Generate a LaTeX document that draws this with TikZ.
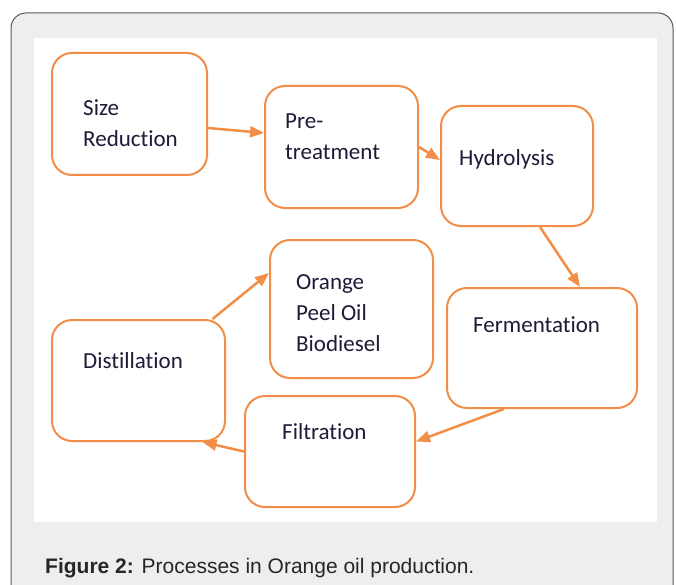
\documentclass[tikz,border=0pt]{standalone}
\usepackage{xcolor}
\usepackage{fontspec}
\setmainfont{Carlito}[Ligatures=NoCommon]
\newfontfamily\capfont{Liberation Sans}
\usepackage{tikz}
\usetikzlibrary{arrows.meta}
\definecolor{boxorange}{HTML}{F28E47}
\definecolor{boxtext}{HTML}{1C1C38}
\definecolor{panelgrey}{HTML}{EEEEEE}

\begin{document}
\begin{tikzpicture}[x=1pt, y=-1pt,
  stage/.style={draw=boxorange, line width=2pt, rounded corners=20pt, fill=white, inner sep=0pt},
  word/.style={anchor=base west, inner sep=0pt, text=boxtext, align=left, font=\fontsize{23}{31}\selectfont},
  flow/.style={draw=boxorange, line width=2.5pt, -{Triangle[length=14pt,width=11pt]}}]
  \useasboundingbox (0,0) rectangle (676,585);
  \begin{scope}
    \clip (0,0) rectangle (676,585);
    \draw[fill=panelgrey, draw=black!65, line width=1pt, rounded corners=15pt] (11,13) rectangle (673,600);
  \end{scope}
  \fill[white] (34,38) rectangle (657,522);

  \node[stage, minimum width=155pt, minimum height=122pt] (size) at (129.5,114) {};
  \node[stage, minimum width=153pt, minimum height=122pt] (pre) at (341.5,147) {};
  \node[stage, minimum width=152pt, minimum height=120pt] (hydro) at (517,166) {};
  \node[stage, minimum width=190pt, minimum height=120pt] (ferm) at (542,348) {};
  \node[stage, minimum width=170pt, minimum height=111pt] (filt) at (330,451.5) {};
  \node[stage, minimum width=173pt, minimum height=121pt] (dist) at (138.5,380.5) {};
  \node[stage, minimum width=163pt, minimum height=138pt] (oil) at (351.5,309) {};

  % base of a multi-line node sits on its last line
  \node[word] (sizetxt) at (83,147) {Size\\Reduction};
  \node[word] (pretxt) at (285,160) {Pre-\\treatment};
  \node[word] (hydrotxt) at (459,166) {Hydrolysis};
  \node[word] (fermtxt) at (473,332) {Fermentation};
  \node[word] (filttxt) at (282,439) {Filtration};
  \node[word] (disttxt) at (83,368) {Distillation};
  \node[word] (oiltxt) at (296,351) {Orange\\Peel Oil\\Biodiesel};

  \draw[flow] ([yshift=-14pt]size.east) -- ([yshift=14pt]pre.west);
  \draw[flow] (pre.east) -- ([yshift=6pt]hydro.west);
  \draw[flow] ([xshift=23pt]hydro.south) -- ([xshift=38pt]ferm.north);
  \draw[flow] ([xshift=-38pt]ferm.south) -- ([yshift=10pt]filt.east);
  \draw[flow] (filt.west) -- ([xshift=64pt]dist.south);
  \draw[flow] ([xshift=74pt]dist.north) -- ([yshift=36pt]oil.west);

  \node[anchor=base west, inner sep=0pt, text=black!85, font=\capfont\fontsize{21}{24}\selectfont] (caption) at (45,573) {\textbf{Figure 2:} Processes in Orange oil production.};
\end{tikzpicture}
\end{document}
